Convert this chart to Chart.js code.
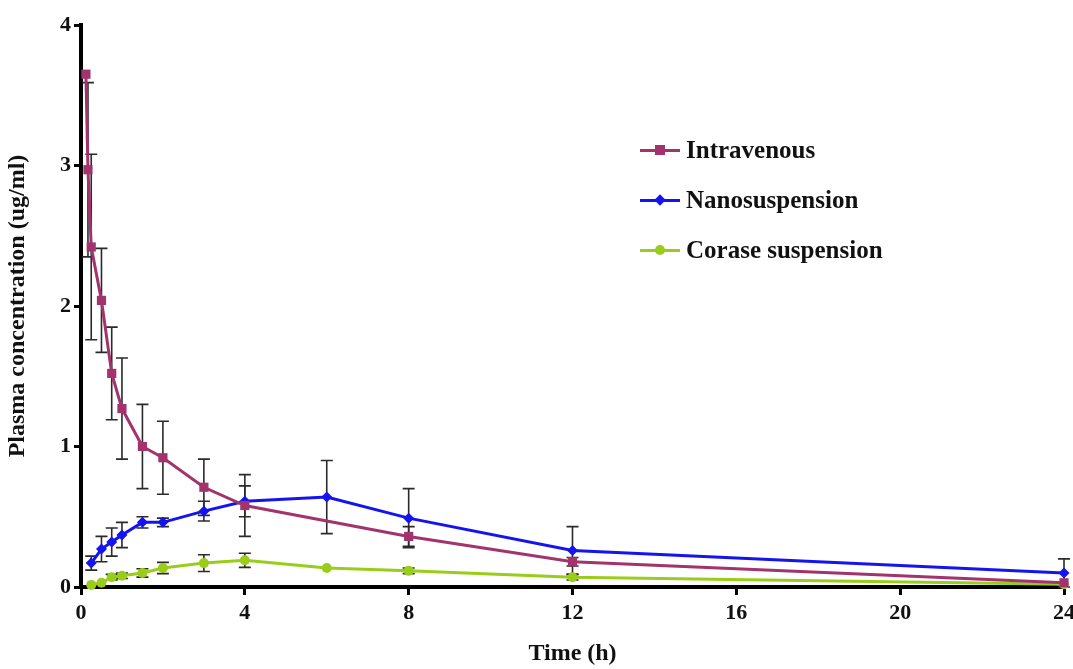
<!DOCTYPE html>
<html>
<head>
<meta charset="utf-8">
<script src="https://cdn.jsdelivr.net/npm/chart.js@4.4.1/dist/chart.umd.min.js"></script>
<style>
    html, body { margin: 0; padding: 0; background: #fff; }
    #wrap { position: relative; width: 1073px; height: 669px; }
    #legend { position: absolute; left: 640px; top: 132px; font-family: 'Liberation Serif', 'Times New Roman', serif; font-weight: bold; font-size: 25px; color: #111; }
    .item { position: relative; height: 50px; line-height: 36px; padding-left: 46px; white-space: nowrap; }
    .item .ln { position: absolute; left: 0; top: 17px; width: 40px; height: 3px; }
    .item .mk { position: absolute; left: 15px; top: 13px; width: 10px; height: 10px; }
</style>
</head>
<body>
<div id="wrap">
    <canvas id="pk-chart" width="1073" height="669"></canvas>
    <div id="legend"></div>
</div>
<script>
// Sampling times (h) per formulation
const ivTimes = [0.12, 0.17, 0.25, 0.5, 0.75, 1, 1.5, 2, 3, 4, 8, 12, 24];
const oralTimes = [0.25, 0.5, 0.75, 1, 1.5, 2, 3, 4, 6, 8, 12, 24];

// Plasma concentration (ug/ml) and SD
const ivConc = [3.65, 2.97, 2.42, 2.04, 1.52, 1.27, 1.00, 0.92, 0.71, 0.58, 0.36, 0.18, 0.03];
const ivErr = [0, 0.62, 0.66, 0.37, 0.33, 0.36, 0.30, 0.26, 0.20, 0.22, 0.07, 0.03, 0];
const nanoConc = [0.17, 0.27, 0.32, 0.37, 0.46, 0.46, 0.54, 0.61, 0.64, 0.49, 0.26, 0.10];
const nanoErr = [0.05, 0.09, 0.10, 0.09, 0.04, 0.03, 0.07, 0.11, 0.26, 0.21, 0.17, 0.10];
const coarseConc = [0.015, 0.03, 0.07, 0.08, 0.10, 0.135, 0.17, 0.19, 0.135, 0.115, 0.07, 0.02];
const coarseErr = [0, 0, 0.02, 0.02, 0.03, 0.04, 0.06, 0.05, 0, 0.02, 0.02, 0];

const seriesLabels = ['Intravenous', 'Nanosuspension', 'Corase suspension'];
const xTicks = [0, 4, 8, 12, 16, 20, 24];
const yTicks = [0, 1, 2, 3, 4];

const serif = "'Liberation Serif', 'Times New Roman', serif";

function toPoints(times, values) {
    return values.map((v, i) => ({ x: times[i], y: v }));
}

// Draws vertical SD bars from each dataset's err array
const errorBars = {
    id: 'errorBars',
    beforeDatasetsDraw(chart) {
        const ctx = chart.ctx;
        const xs = chart.scales.x, ys = chart.scales.y;
        ctx.save();
        ctx.strokeStyle = '#2a2a2a';
        ctx.lineWidth = 1.6;
        chart.data.datasets.forEach(ds => {
            ds.data.forEach((p, i) => {
                const e = ds.err[i];
                if (!e) return;
                const x = xs.getPixelForValue(p.x);
                const y1 = ys.getPixelForValue(p.y + e);
                const y2 = ys.getPixelForValue(Math.max(p.y - e, 0));
                ctx.beginPath();
                ctx.moveTo(x, y1); ctx.lineTo(x, y2);
                ctx.moveTo(x - 6, y1); ctx.lineTo(x + 6, y1);
                ctx.moveTo(x - 6, y2); ctx.lineTo(x + 6, y2);
                ctx.stroke();
            });
        });
        ctx.restore();
    }
};

const datasets = [
    { label: seriesLabels[0], data: toPoints(ivTimes, ivConc), err: ivErr, color: '#a3336c', pointStyle: 'rect', pointRadius: 6.5 },
    { label: seriesLabels[1], data: toPoints(oralTimes, nanoConc), err: nanoErr, color: '#1414f0', pointStyle: 'rectRot', pointRadius: 5.5 },
    { label: seriesLabels[2], data: toPoints(oralTimes, coarseConc), err: coarseErr, color: '#9acd1a', pointStyle: 'circle', pointRadius: 5 }
].map(d => ({
    label: d.label,
    data: d.data,
    err: d.err,
    borderColor: d.color,
    backgroundColor: d.color,
    pointBackgroundColor: d.color,
    pointBorderColor: d.color,
    pointBorderWidth: 0,
    pointStyle: d.pointStyle,
    pointRadius: d.pointRadius,
    borderWidth: 3,
    tension: 0,
    clip: false
}));

const axisTitleFont = { family: serif, size: 24, weight: 'bold' };
const tickFont = { family: serif, size: 22, weight: 'bold' };

new Chart(document.getElementById('pk-chart'), {
    type: 'line',
    data: { datasets: datasets },
    options: {
        responsive: false,
        animation: false,
        layout: { padding: { top: 25, right: 9, left: 0, bottom: 0 } },
        scales: {
            x: {
                type: 'linear',
                min: 0,
                max: 24,
                afterBuildTicks: s => { s.ticks = xTicks.map(v => ({ value: v })); },
                afterFit: s => { s.height = 82; s.paddingLeft = 0; s.paddingRight = 0; },
                border: { color: '#000', width: 4 },
                grid: { drawOnChartArea: false, tickLength: 8, tickColor: '#000', tickWidth: 3 },
                ticks: { color: '#111', font: tickFont, padding: 5, maxRotation: 0 },
                title: { display: true, text: 'Time (h)', color: '#111', font: axisTitleFont, padding: { top: 0, bottom: 1 } }
            },
            y: {
                min: 0,
                max: 4,
                afterBuildTicks: s => { s.ticks = yTicks.map(v => ({ value: v })); },
                afterFit: s => { s.width = 81; s.paddingTop = 0; s.paddingBottom = 0; },
                border: { color: '#000', width: 4 },
                grid: { drawOnChartArea: false, tickLength: 7, tickColor: '#000', tickWidth: 3 },
                ticks: { color: '#111', font: tickFont, padding: 3 },
                title: { display: true, text: 'Plasma concentration (ug/ml)', color: '#111', font: axisTitleFont, padding: { top: 3, bottom: 0 } }
            }
        },
        plugins: {
            legend: { display: false },
            tooltip: { enabled: false }
        }
    },
    plugins: [errorBars]
});

// HTML legend built from the datasets
const legend = document.getElementById('legend');
datasets.forEach(ds => {
    const item = document.createElement('div');
    item.className = 'item';
    const ln = document.createElement('span');
    ln.className = 'ln';
    ln.style.background = ds.borderColor;
    const mk = document.createElement('span');
    mk.className = 'mk';
    mk.style.background = ds.borderColor;
    if (ds.pointStyle === 'circle') mk.style.borderRadius = '50%';
    if (ds.pointStyle === 'rectRot') mk.style.transform = 'rotate(45deg) scale(0.8)';
    item.appendChild(ln);
    item.appendChild(mk);
    item.appendChild(document.createTextNode(ds.label));
    legend.appendChild(item);
});
</script>
</body>
</html>
